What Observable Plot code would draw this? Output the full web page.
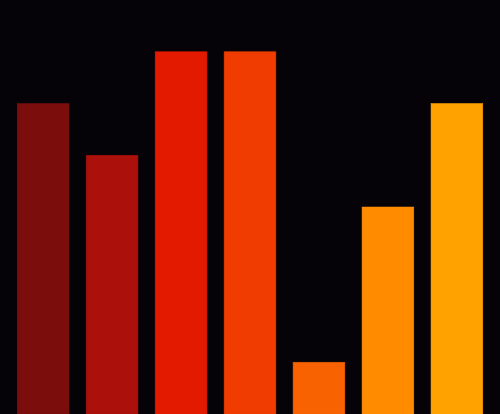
<!DOCTYPE html>
<html>
<head>
<meta charset="utf-8">
<script src="https://cdn.jsdelivr.net/npm/d3@7"></script>
<script src="https://cdn.jsdelivr.net/npm/@observablehq/plot@0.6"></script>
<style>
html, body { margin: 0; padding: 0; background: #050307; overflow: hidden; }
</style>
</head>
<body>
<div id="chart"></div>
<script>
const categories = ["A", "B", "C", "D", "E", "F", "G"];
const values = [6, 5, 7, 7, 1, 4, 6];
const colors = ["#7b0d0d", "#ab100a", "#e31a00", "#f03c00", "#f86200", "#ff8c00", "#ffa200"];

const data = categories.map((c, i) => ({category: c, value: values[i]}));

const chart = Plot.plot({
  width: 500,
  height: 414,
  margin: 0,
  style: {background: "#050307"},
  x: {domain: categories, padding: 0.25, round: false, axis: null},
  y: {domain: [0, 8], axis: null},
  color: {domain: categories, range: colors},
  marks: [
    Plot.barY(data, {x: "category", y: "value", fill: "category", stroke: "category", strokeOpacity: 0.85, strokeWidth: 0.6})
  ]
});
document.getElementById("chart").appendChild(chart);
</script>
</body>
</html>
